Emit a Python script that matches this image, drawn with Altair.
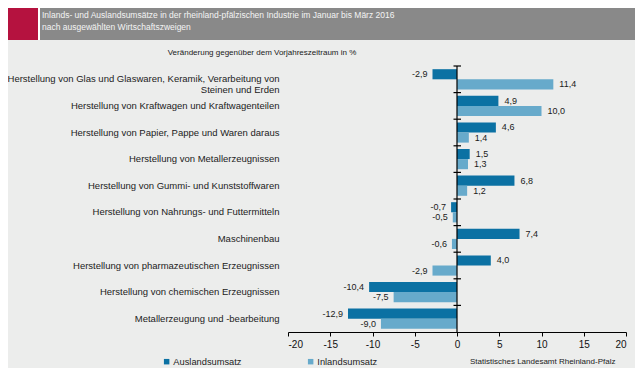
import altair as alt
import pandas as pd

# ---------------- data ----------------
categories = [
    "Herstellung von Glas  und Glaswaren, Keramik, Verarbeitung von|Steinen und Erden",
    "Herstellung von Kraftwagen und Kraftwagenteilen",
    "Herstellung von Papier, Pappe und Waren daraus",
    "Herstellung von Metallerzeugnissen",
    "Herstellung von Gummi- und Kunststoffwaren",
    "Herstellung von Nahrungs- und Futtermitteln",
    "Maschinenbau",
    "Herstellung von pharmazeutischen Erzeugnissen",
    "Herstellung von chemischen Erzeugnissen",
    "Metallerzeugung und -bearbeitung",
]
ausland = [-2.9, 4.9, 4.6, 1.5, 6.8, -0.7, 7.4, 4.0, -10.4, -12.9]
inland = [11.4, 10.0, 1.4, 1.3, 1.2, -0.5, -0.6, -2.9, -7.5, -9.0]
series = ["Auslandsumsatz", "Inlandsumsatz"]
x_ticks = [-20, -15, -10, -5, 0, 5, 10, 15, 20]

title_lines = [
    "Inlands- und Auslandsumsätze in der rheinland-pfälzischen Industrie im Januar bis März 2016",
    "nach ausgewählten Wirtschaftszweigen",
]
subtitle = "Veränderung gegenüber dem Vorjahreszeitraum  in %"
source = "Statistisches Landesamt Rheinland-Pfalz"

# ---------------- styles / layout ----------------
colors = ["#0B71A3", "#67AACB"]
FONT = "Liberation Sans"
L, T, R, B = 280, 58, 9, 36
W, H = 338, 266
P_IN = 0.24

rows = []
for c, a, i in zip(categories, ausland, inland):
    rows.append({"cat": c, "series": series[0], "value": a})
    rows.append({"cat": c, "series": series[1], "value": i})
df = pd.DataFrame(rows)
df["label"] = df["value"].map(lambda v: f"{v:.1f}".replace(".", ","))

cat_df = pd.DataFrame({"cat": categories})
one = pd.DataFrame({"k": [0]})

y_enc = alt.Y(
    "cat:N",
    sort=categories,
    scale=alt.Scale(paddingInner=P_IN, paddingOuter=P_IN / 2),
    axis=alt.Axis(
        orient="left", domain=False, ticks=False, labelPadding=9,
        labelFontSize=9.5, labelLimit=400, labelColor="#222222",
        labelFont=FONT, title=None, labelLineHeight=11,
        labelExpr="split(datum.label, '|')",
    ),
)
yoff_enc = alt.YOffset("series:N", sort=series)
x_enc = alt.X(
    "value:Q",
    scale=alt.Scale(domain=[-20, 20], nice=False, zero=False),
    axis=alt.Axis(
        values=x_ticks, title=None, grid=False, tickSize=4, tickColor="#000000",
        domainColor="#000000", labelFontSize=10, labelColor="#111111",
        labelFont=FONT, labelPadding=3, labelExpr="'' + datum.value",
    ),
)

base = alt.Chart(df)
bars = base.mark_bar().encode(
    y=y_enc, yOffset=yoff_enc, x=x_enc,
    color=alt.Color(
        "series:N",
        scale=alt.Scale(domain=series, range=colors),
        legend=alt.Legend(
            orient="none", legendX=-126, legendY=291, direction="horizontal",
            title=None, symbolType="square", symbolSize=30, symbolStrokeWidth=0,
            labelFontSize=9.3, labelFont=FONT, labelColor="#222222",
            columnPadding=64, labelOffset=2, padding=0,
        ),
    ),
)
txt_pos = base.transform_filter("datum.value >= 0").mark_text(
    align="left", baseline="middle", dx=6, fontSize=9, font=FONT, color="#1a1a1a"
).encode(y=y_enc, yOffset=yoff_enc, x=x_enc, text="label:N")
txt_neg = base.transform_filter("datum.value < 0").mark_text(
    align="right", baseline="middle", dx=-5, fontSize=9, font=FONT, color="#1a1a1a"
).encode(y=y_enc, yOffset=yoff_enc, x=x_enc, text="label:N")

zero_line = alt.Chart(one).mark_rule(color="#000000", strokeWidth=1.2).encode(
    x=alt.datum(0, scale=alt.Scale(domain=[-20, 20], nice=False, zero=False))
)

step = H / 10.0
band_ticks = alt.Chart(cat_df).mark_rule(
    color="#000000", strokeWidth=1.2, yOffset=-P_IN * step / 2
).encode(
    y=alt.Y("cat:N", sort=categories, bandPosition=0),
    x=alt.value(W / 2 - 3.5), x2=alt.value(W / 2 + 4),
)

# ---------------- decorations ----------------
top, bot = -T, -T + 32
right_edge = W + R
hdr_white = alt.Chart(one).mark_rect(color="#FFFFFF").encode(
    x=alt.value(-L), x2=alt.value(right_edge), y=alt.value(top), y2=alt.value(bot))
hdr_red = alt.Chart(one).mark_rect(color="#B5123F").encode(
    x=alt.value(-L), x2=alt.value(-L + 30), y=alt.value(top), y2=alt.value(bot))
hdr_gray = alt.Chart(one).mark_rect(color="#898989").encode(
    x=alt.value(-L + 32), x2=alt.value(right_edge), y=alt.value(top), y2=alt.value(bot))
hdr_text = alt.Chart(one).mark_text(
    text=title_lines, align="left", baseline="top", fontSize=8.5, lineHeight=12,
    color="#F4F4F4", font=FONT,
).encode(x=alt.value(-L + 34), y=alt.value(top + 3))
sub_text = alt.Chart(one).mark_text(
    text=subtitle, align="center", baseline="middle", fontSize=8,
    color="#1a1a1a", font=FONT,
).encode(x=alt.value(-26), y=alt.value(-13))
src_text = alt.Chart(one).mark_text(
    text=source, align="left", baseline="middle", fontSize=8,
    color="#222222", font=FONT,
).encode(x=alt.value(182), y=alt.value(296))

chart = alt.layer(
    hdr_white, hdr_red, hdr_gray, hdr_text, sub_text,
    bars, txt_pos, txt_neg, zero_line, band_ticks, src_text,
).properties(
    width=W, height=H,
    autosize=alt.AutoSizeParams(type="none"),
    padding={"left": L, "top": T, "right": R, "bottom": B},
    background="#ECEDEC",
).configure_view(stroke=None)

chart.save("out.html", embed_options={"renderer": "svg", "actions": False})
